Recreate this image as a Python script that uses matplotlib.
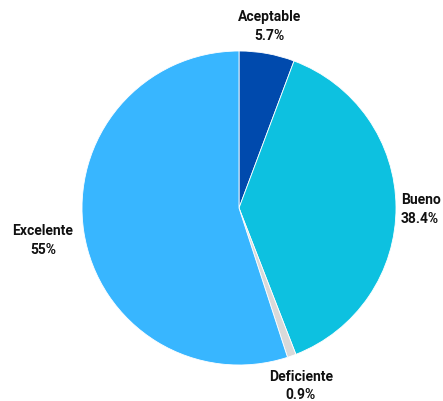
import matplotlib
matplotlib.use("Agg")
import matplotlib.pyplot as plt
import numpy as np

categories = ["Aceptable", "Bueno", "Deficiente", "Excelente"]
values = [5.7, 38.4, 0.9, 55.0]
pct_labels = ["5.7%", "38.4%", "0.9%", "55%"]
colors = ["#004AAD", "#0DC1E0", "#D9D9D9", "#38B6FF"]

plt.rcParams['font.family'] = ['Roboto', 'DejaVu Sans']

W, H = 443, 401
fig = plt.figure(figsize=(W / 100, H / 100), dpi=100)
cx, cy, r = 239, 208, 157
ax = fig.add_axes([(cx - r) / W, (H - cy - r) / H, 2 * r / W, 2 * r / H])
wedges, _ = ax.pie(values, colors=colors, startangle=90, counterclock=False,
                   radius=1, wedgeprops=dict(linewidth=0.6, edgecolor="white"))
ax.set_xlim(-1, 1)
ax.set_ylim(-1, 1)
ax.set_aspect("equal")
ax.axis("off")

# label placement: (distance, angle offset, ha)
place = [(1.17, 0.6, "center"), (1.03, -1, "left"), (1.2, -0.5, "center"), (1.265, 0.3, "center")]
for w, cat, pct, (d, off, ha) in zip(wedges, categories, pct_labels, place):
    ang = np.deg2rad((w.theta1 + w.theta2) / 2 + off)
    x, y = d * np.cos(ang), d * np.sin(ang)
    ax.text(x, y, f"{cat}\n{pct}", ha=ha, va="center", fontsize=10,
            fontweight="bold", color="#111111", linespacing=1.45, clip_on=False)

fig.savefig("out.png", dpi=100)
